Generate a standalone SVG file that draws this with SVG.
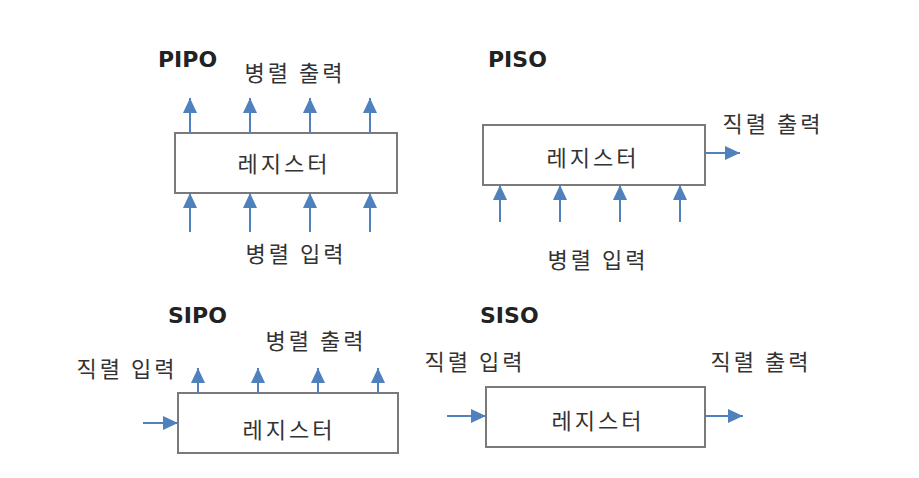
<svg xmlns="http://www.w3.org/2000/svg" width="919" height="478" viewBox="0 0 919 478">
<style>
.box{fill:#fff;stroke:#7a7a7a;stroke-width:2}
.ko{font-family:"Noto Sans CJK KR","Noto Sans CJK SC",sans-serif;font-size:22px;fill:#333;letter-spacing:3px;text-anchor:middle}
.ttl{font-family:"DejaVu Sans",sans-serif;font-weight:bold;font-size:22px;fill:#222}
.ar{stroke:#4f81bd;stroke-width:2;fill:none;marker-end:url(#ah)}
</style>
<defs>
<marker id="ah" markerUnits="userSpaceOnUse" markerWidth="15" markerHeight="14" refX="15" refY="7" orient="auto">
<path d="M0,0 L15,7 L0,14 z" fill="#4f81bd"/>
</marker>
</defs>
<rect width="919" height="478" fill="#fff"/>
<g id="pipo">
<text class="ttl" x="158" y="67">PIPO</text>
<rect class="box" x="175" y="133" width="222" height="60"/>
<text class="ko" x="284" y="172">레지스터</text>
<text class="ko" x="295" y="81">병렬 출력</text>
<text class="ko" x="296" y="262">병렬 입력</text>
</g>
<g id="piso">
<text class="ttl" x="488" y="67">PISO</text>
<rect class="box" x="483" y="125" width="222" height="60"/>
<text class="ko" x="593" y="166">레지스터</text>
<text class="ko" x="773" y="132">직렬 출력</text>
<text class="ko" x="598" y="268">병렬 입력</text>
</g>
<g id="sipo">
<text class="ttl" x="168" y="323">SIPO</text>
<rect class="box" x="178" y="393" width="220" height="60"/>
<text class="ko" x="289" y="438">레지스터</text>
<text class="ko" x="316" y="349">병렬 출력</text>
<text class="ko" x="127" y="377">직렬 입력</text>
</g>
<g id="siso">
<text class="ttl" x="480" y="323">SISO</text>
<rect class="box" x="486" y="387" width="219" height="60"/>
<text class="ko" x="598" y="429">레지스터</text>
<text class="ko" x="475" y="370">직렬 입력</text>
<text class="ko" x="761" y="370">직렬 출력</text>
</g>
<g id="connectors">
<line class="ar" x1="190" y1="133" x2="190" y2="98"/>
<line class="ar" x1="250" y1="133" x2="250" y2="98"/>
<line class="ar" x1="310" y1="133" x2="310" y2="98"/>
<line class="ar" x1="370" y1="133" x2="370" y2="98"/>
<line class="ar" x1="190" y1="232" x2="190" y2="193"/>
<line class="ar" x1="250" y1="232" x2="250" y2="193"/>
<line class="ar" x1="310" y1="232" x2="310" y2="193"/>
<line class="ar" x1="370" y1="232" x2="370" y2="193"/>
<line class="ar" x1="705" y1="153" x2="740" y2="153"/>
<line class="ar" x1="500" y1="222" x2="500" y2="185"/>
<line class="ar" x1="560" y1="222" x2="560" y2="185"/>
<line class="ar" x1="620" y1="222" x2="620" y2="185"/>
<line class="ar" x1="680" y1="222" x2="680" y2="185"/>
<line class="ar" x1="198" y1="393" x2="198" y2="368"/>
<line class="ar" x1="258" y1="393" x2="258" y2="368"/>
<line class="ar" x1="318" y1="393" x2="318" y2="368"/>
<line class="ar" x1="378" y1="393" x2="378" y2="368"/>
<line class="ar" x1="143" y1="423" x2="178" y2="423"/>
<line class="ar" x1="447" y1="416" x2="486" y2="416"/>
<line class="ar" x1="705" y1="416" x2="743" y2="416"/>
</g>
</svg>
